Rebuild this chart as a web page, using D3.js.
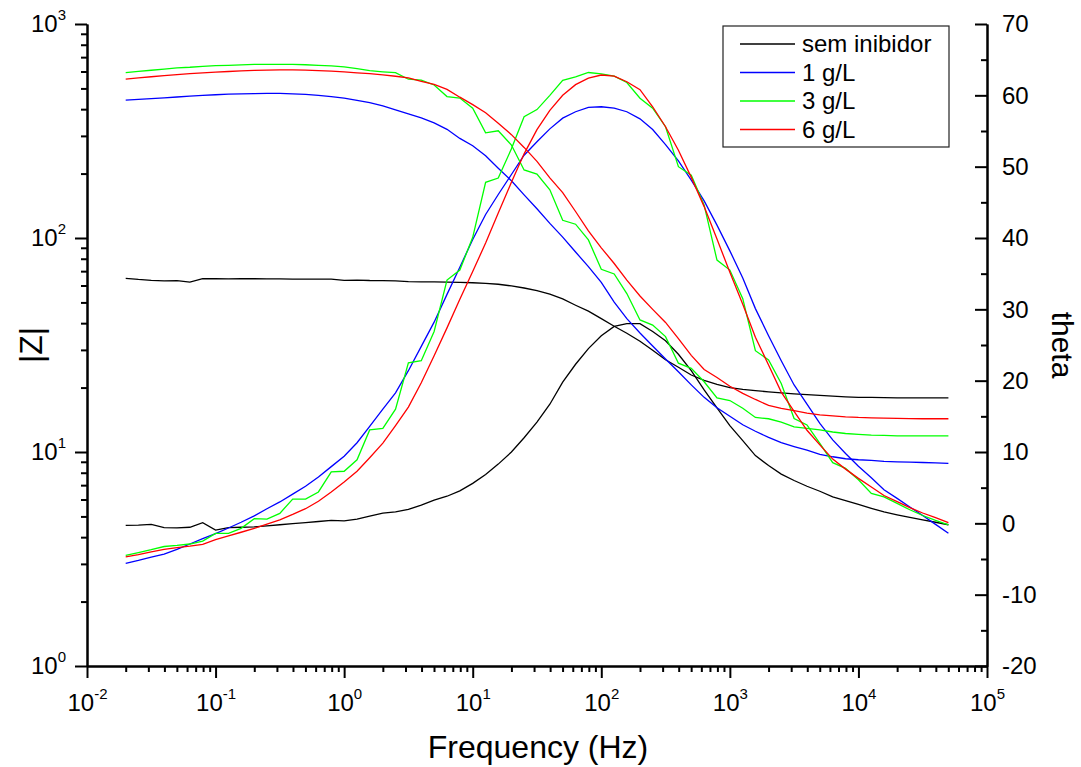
<!DOCTYPE html>
<html>
<head>
<meta charset="utf-8">
<script src="https://cdn.jsdelivr.net/npm/d3@7"></script>
<style>
body { margin: 0; background: #fff; }
text { font-family: "Liberation Sans", Arial, sans-serif; fill: #000; }
</style>
</head>
<body>
<svg id="chart" width="1081" height="767"></svg>
<script>
// frequencies (Hz), 10 points per decade
var freqs = [0.02, 0.0251, 0.0316, 0.0398, 0.0501, 0.0631, 0.0794,
  0.1, 0.126, 0.158, 0.2, 0.251, 0.316, 0.398, 0.501, 0.631, 0.794,
  1, 1.26, 1.58, 2, 2.51, 3.16, 3.98, 5.01, 6.31, 7.94,
  10, 12.6, 15.8, 20, 25.1, 31.6, 39.8, 50.1, 63.1, 79.4,
  100, 126, 158, 200, 251, 316, 398, 501, 631, 794,
  1000, 1260, 1580, 2000, 2510, 3160, 3980, 5010, 6310, 7940,
  10000, 12600, 15800, 20000, 25100, 31600, 39800, 50100];

// |Z| per sample
var zSem = [64.8, 64.0, 63.4, 63.0, 63.2, 62.2, 64.6, 64.5, 64.4, 64.5,
  64.5, 64.4, 64.4, 64.3, 64.3, 64.2, 64.2, 63.4, 63.6, 63.3,
  63.2, 63.0, 62.6, 62.4, 62.4, 62.2, 62.0, 61.8, 61.4, 60.8,
  59.7, 58.4, 56.8, 54.6, 51.9, 48.5, 45.5, 42.0, 38.7, 35.9,
  32.9, 29.9, 27.0, 24.9, 22.9, 21.6, 20.7, 20.0, 19.6, 19.35,
  19.1, 18.9, 18.7, 18.55, 18.4, 18.25, 18.1, 18.0, 18.0, 17.95,
  17.9, 17.9, 17.9, 17.9, 17.9];
var z1 = [441, 444, 448, 452, 456, 460, 464, 467, 470, 472,
  473, 474, 474, 472, 469, 464, 458, 450, 440, 429,
  414, 397, 380, 364, 345, 322, 292, 270, 242, 212,
  185, 159, 137, 117, 101, 86, 73.5, 62, 50.2, 42,
  36, 31.3, 27.2, 23.7, 20.6, 18.0, 16.1, 14.7, 13.4, 12.5,
  11.7, 11.05, 10.6, 10.2, 9.75, 9.5, 9.3, 9.2, 9.13, 9.05,
  9.0, 8.96, 8.93, 8.89, 8.85];
var z3 = [592, 600, 608, 616, 624, 628, 634, 639, 641, 644,
  648, 648, 648, 647, 645, 641, 637, 631, 618, 605,
  598, 592, 552, 547, 519, 458, 451, 404, 310, 317,
  272, 208, 199, 168, 121, 116, 98, 71.4, 67.9, 55,
  41.4, 39.2, 34.6, 26.0, 24.6, 21.3, 17.9, 17.4, 16.0, 14.5,
  14.3, 13.8, 13.1, 12.9, 12.7, 12.4, 12.2, 12.1, 12.0, 11.95,
  11.9, 11.9, 11.9, 11.9, 11.9];
var z6 = [553, 560, 567, 574, 580, 586, 591, 596, 600, 604,
  607, 609, 610, 610, 609, 606, 602, 597, 591, 586,
  578, 570, 560, 540, 522, 495, 455, 420, 385, 344,
  304, 265, 228, 191, 163, 133, 108, 90, 76, 63.5,
  53.6, 46.4, 40.3, 33.9, 28.3, 24.3, 22.3, 20.3, 18.8, 17.6,
  16.5, 16.0, 15.6, 15.2, 14.9, 14.75, 14.6, 14.5, 14.45, 14.4,
  14.35, 14.33, 14.3, 14.3, 14.3];

// phase angle (theta) per sample
var thSem = [-0.3, -0.25, -0.15, -0.6, -0.65, -0.55, 0.1, -0.95, -0.6, -0.55,
  -0.5, -0.35, -0.2, -0.04, 0.1, 0.26, 0.42, 0.35, 0.6, 1.0,
  1.42, 1.6, 1.95, 2.55, 3.25, 3.8, 4.55, 5.6, 6.85, 8.3,
  10.0, 12.0, 14.2, 16.7, 19.8, 22.3, 24.5, 26.3, 27.6, 28.0,
  28.0, 26.9, 25.6, 23.7, 21.4, 18.7, 16.2, 13.7, 11.6, 9.5,
  8.1, 6.9, 6.0, 5.2, 4.5, 3.7, 3.2, 2.65, 2.1, 1.6,
  1.2, 0.85, 0.5, 0.15, -0.2];
var th1 = [-5.6, -5.2, -4.75, -4.3, -3.65, -2.9, -2.15, -1.45, -0.65, 0.15,
  1.05, 2.05, 3.0, 4.1, 5.2, 6.5, 7.95, 9.4, 11.3, 13.6,
  16.0, 18.3, 21.4, 24.8, 28.2, 32.1, 35.9, 39.8, 43.3, 46.1,
  48.9, 51.6, 53.5, 55.3, 56.8, 57.7, 58.3, 58.4, 58.2, 57.7,
  56.7, 55.2, 53.1, 50.8, 48.1, 45.2, 41.8, 38.2, 34.4, 30.1,
  26.3, 22.8, 19.4, 16.7, 14.0, 11.7, 9.8, 8.0, 6.4, 4.7,
  3.5, 2.3, 1.1, -0.15, -1.4];
var th3 = [-4.5, -4.1, -3.7, -3.25, -3.1, -2.9, -2.5, -1.4, -1.4, -0.7,
  0.65, 0.6, 1.4, 3.4, 3.4, 4.4, 7.2, 7.3, 8.9, 13.1,
  13.3, 16.0, 22.5, 22.8, 26.9, 34.1, 35.5, 40.1, 47.8, 48.4,
  52.5, 57.0, 58.0, 60.0, 62.1, 62.6, 63.2, 63.0, 62.7, 61.8,
  59.6, 58.2, 55.6, 50.0, 48.8, 44.6, 36.9, 35.5, 31.5, 24.2,
  22.9, 19.6, 14.7, 13.8, 11.2, 8.5, 7.7, 6.1, 4.2, 3.7,
  2.8, 1.9, 1.1, 0.4, -0.2];
var th6 = [-4.7, -4.4, -4.0, -3.65, -3.4, -3.2, -2.95, -2.3, -1.75, -1.25,
  -0.7, -0.1, 0.5, 1.25, 2.05, 3.1, 4.4, 5.8, 7.3, 9.2,
  11.25, 13.7, 16.3, 19.7, 23.5, 27.4, 31.4, 35.3, 39.3, 43.5,
  47.8, 51.8, 55.2, 57.9, 60.0, 61.5, 62.4, 62.85, 62.7, 61.9,
  60.8, 58.4, 55.6, 52.3, 48.5, 44.4, 39.85, 35.2, 30.7, 26.1,
  22.2, 18.4, 15.7, 13.05, 11.0, 9.0, 7.6, 6.3, 5.1, 3.9,
  3.05, 2.2, 1.45, 0.8, 0.1];

var seriesNames = ["sem inibidor", "1 g/L", "3 g/L", "6 g/L"];
var seriesColors = ["#000000", "#0000ff", "#00ff00", "#ff0000"];
var zSeries = [zSem, z1, z3, z6];
var thSeries = [thSem, th1, th3, th6];

// axis ticks
var xTicks = [1e-2, 1e-1, 1e0, 1e1, 1e2, 1e3, 1e4, 1e5];
var yLeftTicks = [1, 10, 100, 1000];
var yRightTicks = [-20, -10, 0, 10, 20, 30, 40, 50, 60, 70];
var yRightMinor = [-15, -5, 5, 15, 25, 35, 45, 55, 65];

var svg = d3.select("#chart");
var margin = {top: 24, left: 87};
var width = 900, height = 642;
var bottomY = margin.top + height;

var x = d3.scaleLog().domain([1e-2, 1e5]).range([margin.left, margin.left + width]);
var yZ = d3.scaleLog().domain([1, 1000]).range([bottomY, margin.top]);
var yT = d3.scaleLinear().domain([-20, 70]).range([bottomY, margin.top]);

function minorsOf(majors){
    var out = [];
    for (var i = 0; i < majors.length - 1; i++) {
        for (var m = 2; m <= 9; m++) out.push(majors[i] * m);
    }
    return out;
}

// write 10^n labels with a raised exponent
function powLabels(g){
    g.selectAll(".tick text").each(function(d){
        var t = d3.select(this).text(null).attr("font-size", "24px");
        t.append("tspan").text("10");
        t.append("tspan").attr("dy", -12).attr("font-size", "15px")
            .text(Math.round(Math.log10(d)));
    });
}

function styleAxis(g){
    g.selectAll("path.domain").attr("stroke", "#000").attr("stroke-width", 2);
    g.selectAll(".tick line").attr("stroke", "#000").attr("stroke-width", 2);
}

// bottom axis
var gx = svg.append("g").attr("transform", "translate(0," + bottomY + ")")
    .call(d3.axisBottom(x).tickValues(xTicks).tickSize(12).tickSizeOuter(0).tickPadding(16));
gx.call(powLabels).call(styleAxis);
var gxm = svg.append("g").attr("transform", "translate(0," + bottomY + ")")
    .call(d3.axisBottom(x).tickValues(minorsOf(xTicks)).tickSize(6).tickSizeOuter(0).tickFormat(""));
gxm.call(styleAxis);

// left axis, |Z|
var gy = svg.append("g").attr("transform", "translate(" + margin.left + ",0)")
    .call(d3.axisLeft(yZ).tickValues(yLeftTicks).tickSize(12).tickSizeOuter(0).tickPadding(9));
gy.call(powLabels).call(styleAxis);
var gym = svg.append("g").attr("transform", "translate(" + margin.left + ",0)")
    .call(d3.axisLeft(yZ).tickValues(minorsOf(yLeftTicks)).tickSize(6).tickSizeOuter(0).tickFormat(""));
gym.call(styleAxis);

// right axis, theta (ticks point inward, plain hyphen for negatives)
var rightX = margin.left + width;
var gr = svg.append("g").attr("transform", "translate(" + rightX + ",0)")
    .call(d3.axisRight(yT).tickValues(yRightTicks).tickSizeInner(-12).tickSizeOuter(0).tickPadding(15)
        .tickFormat(function(d){ return String(d); }));
gr.selectAll(".tick text").attr("font-size", "24px");
gr.call(styleAxis);
var grm = svg.append("g").attr("transform", "translate(" + rightX + ",0)")
    .call(d3.axisRight(yT).tickValues(yRightMinor).tickSizeInner(-6).tickSizeOuter(0).tickFormat(""));
grm.call(styleAxis);
svg.selectAll(".tick text").attr("fill", "#000").attr("font-family", "Liberation Sans, Arial, sans-serif");

// axis titles
svg.append("text").attr("x", 538).attr("y", 758)
    .attr("text-anchor", "middle").attr("font-size", "32px").text("Frequency (Hz)");
svg.append("text").attr("transform", "translate(42," + (margin.top + height / 2) + ") rotate(-90)")
    .attr("text-anchor", "middle").attr("font-size", "32px").text("|Z|");
svg.append("text").attr("transform", "translate(1052," + (margin.top + height / 2) + ") rotate(90)")
    .attr("text-anchor", "middle").attr("font-size", "30px").text("theta");

// curves
var lineZ = d3.line().x(function(d){ return x(d[0]); }).y(function(d){ return yZ(d[1]); });
var lineT = d3.line().x(function(d){ return x(d[0]); }).y(function(d){ return yT(d[1]); });

seriesNames.forEach(function(name, i){
    svg.append("path").datum(d3.zip(freqs, zSeries[i]))
        .attr("fill", "none").attr("stroke", seriesColors[i]).attr("stroke-width", 1.3)
        .attr("d", lineZ);
    svg.append("path").datum(d3.zip(freqs, thSeries[i]))
        .attr("fill", "none").attr("stroke", seriesColors[i]).attr("stroke-width", 1.3)
        .attr("d", lineT);
});

// legend
var legend = svg.append("g").attr("transform", "translate(723,26)");
legend.append("rect").attr("width", 226).attr("height", 121)
    .attr("fill", "#fff").attr("stroke", "#222").attr("stroke-width", 1.2);
seriesNames.forEach(function(name, i){
    var ly = 18 + i * 28.5;
    legend.append("line").attr("x1", 17).attr("x2", 72).attr("y1", ly).attr("y2", ly)
        .attr("stroke", seriesColors[i]).attr("stroke-width", 1.3);
    legend.append("text").attr("x", 79).attr("y", ly + 8).attr("font-size", "24px").text(name);
});
</script>
</body>
</html>
